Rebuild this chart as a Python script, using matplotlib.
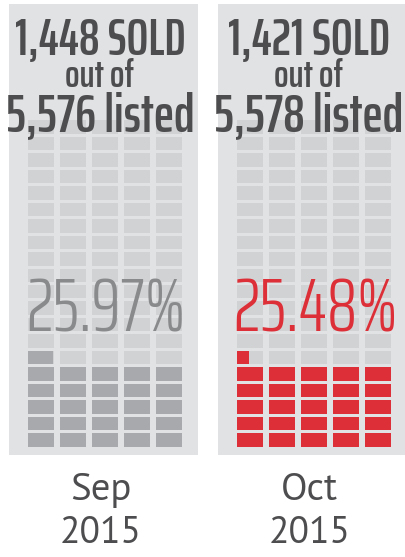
import matplotlib
matplotlib.use("Agg")
import matplotlib.pyplot as plt
import numpy as np

# ---- data ----
months = ["Sep", "Oct"]
years = ["2015", "2015"]
sold = [1448, 1421]
listed = [5576, 5578]
pct = [25.97, 25.48]

# ---- style ----
panel_bg = "#e1e2e4"
empty_col = "#d1d2d4"
fill_cols = ["#a7a9ac", "#dc2f37"]
pct_cols = ["#898a8c", "#dc2f37"]
dark = "#4d4d4f"
TITLE_FONT = ["Saira ExtraCondensed", "Barlow Condensed", "DejaVu Sans"]
PCT_FONT = ["Saira ExtraCondensed", "Barlow Condensed", "DejaVu Sans"]
LABEL_FONT = ["Source Sans Pro", "PT Sans", "DejaVu Sans"]

W, H = 405, 557
fig = plt.figure(figsize=(W / 100, H / 100), dpi=100)
ax = fig.add_axes([0, 0, 1, 1])
ax.set_xlim(0, W)
ax.set_ylim(H, 0)
ax.axis("off")

panel_left = [9, 218]
panel_w = 189
panel_top, panel_bot = 4, 455
ncols, nrows = 5, 20
cell_w, col_pitch = 26, 32
cell_h, row_pitch = 13.5, 16.45
grid_bottom = 446.5

for i in range(len(months)):
    pl = panel_left[i]
    cx = pl + panel_w / 2
    ax.add_patch(plt.Rectangle((pl, panel_top), panel_w, panel_bot - panel_top,
                               facecolor=panel_bg, edgecolor="none", zorder=0))
    gl = pl + 19
    full = int(np.floor(pct[i]))
    frac = pct[i] - full
    xs, ys, ws, cs = [], [], [], []
    for r in range(nrows):
        top = grid_bottom - cell_h - r * row_pitch
        for c in range(ncols):
            k = r * ncols + c
            x = gl + c * col_pitch
            if k < full:
                xs.append(x); ys.append(top); ws.append(cell_w); cs.append(fill_cols[i])
            elif k == full and frac > 0:
                xs.append(x); ys.append(top); ws.append(cell_w); cs.append(empty_col)
                xs.append(x); ys.append(top); ws.append(cell_w * frac); cs.append(fill_cols[i])
            else:
                xs.append(x); ys.append(top); ws.append(cell_w); cs.append(empty_col)
    ax.bar(xs, [cell_h] * len(xs), width=ws, bottom=ys, align="edge",
           color=cs, edgecolor="none", zorder=1)

    tx = cx - 3.5
    ax.text(tx, 55, f"{sold[i]:,} SOLD", ha="center", va="baseline",
            fontsize=37, fontweight=600, family=TITLE_FONT, color=dark, zorder=3)
    ax.text(tx, 87, "out of", ha="center", va="baseline",
            fontsize=27.5, fontweight=600, family=TITLE_FONT, color=dark, zorder=3)
    ax.text(tx, 131, f"{listed[i]:,} listed", ha="center", va="baseline",
            fontsize=38.5, fontweight=600, family=TITLE_FONT, color=dark, zorder=3)
    ax.text(cx + 2.5, 332, f"{pct[i]:.2f}%", ha="center", va="baseline",
            fontsize=54, fontweight=300, family=PCT_FONT, color=pct_cols[i], zorder=3)
    ax.text(cx - 3, 500, months[i], ha="center", va="baseline",
            fontsize=28, family=LABEL_FONT, color=dark, zorder=3)
    ax.text(cx - 3, 543, years[i], ha="center", va="baseline",
            fontsize=27, family=LABEL_FONT, color=dark, zorder=3)

fig.savefig("out.png", dpi=100, facecolor="white")
